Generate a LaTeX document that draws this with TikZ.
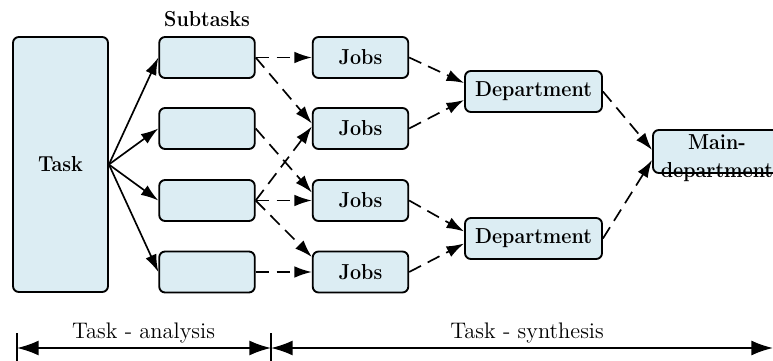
\documentclass[tikz,border=0pt]{standalone}
\usepackage{graphicx}
\usetikzlibrary{arrows.meta,calc}
\definecolor{boxfill}{RGB}{220,237,243}
\newcommand{\sq}[1]{\scalebox{0.91}[1]{#1}}
\begin{document}
\begin{tikzpicture}[x=0.6pt,y=-0.6pt,
  box/.style={draw, line width=1.1pt, rounded corners=3.5pt, fill=boxfill, inner sep=0pt,
    font=\fontsize{13}{17}\selectfont\bfseries},
  smallbox/.style={box, minimum width=57.3pt, minimum height=24.6pt},
  solidarrow/.style={line width=1pt, -{Latex[length=10.5pt,width=7pt]}},
  dasharrow/.style={line width=1pt, dash pattern=on 8pt off 4.5pt, -{Latex[length=10.5pt,width=7pt]}},
  dimarrow/.style={line width=1.1pt, {Latex[length=13pt,width=9pt]}-{Latex[length=13pt,width=9pt]}},
  lbl/.style={inner sep=0pt, anchor=base}
]
\clip (0,0) rectangle (773,361);
\fill[white] (0,0) rectangle (773,361);

% boxes
\node[box, minimum width=57pt, minimum height=153pt] (task) at (60.5,164.5) {\sq{Task}};
\node[smallbox] (s1) at (207,57.5) {};
\node[smallbox] (s2) at (207,128.5) {};
\node[smallbox] (s3) at (207,200.5) {};
\node[smallbox] (s4) at (207,272) {};
\node[smallbox] (j1) at (360.5,57.5) {\sq{Jobs}};
\node[smallbox] (j2) at (360.5,128.5) {\sq{Jobs}};
\node[smallbox] (j3) at (360.5,200.5) {\sq{Jobs}};
\node[smallbox] (j4) at (360.5,272) {\sq{Jobs}};
\node[box, minimum width=82.2pt, minimum height=24.6pt] (d1) at (533.5,91.5) {\sq{Department}};
\node[box, minimum width=82.2pt, minimum height=24.6pt] (d2) at (533.5,238.5) {\sq{Department}};
\node[box, minimum width=76.8pt, minimum height=25.8pt] (main) at (717,151.5) {};
\node[inner sep=0pt, align=center, font=\fontsize{13}{17}\selectfont\bfseries] (maintext) at (717,158.5) {\sq{Main-}\\\sq{department}};

\node[lbl, font=\fontsize{13}{15}\selectfont\bfseries] (subtitle) at (207,27) {\sq{Subtasks}};

% solid arrows
\draw[solidarrow] (task.east) -- (s1.west);
\draw[solidarrow] (task.east) -- (s2.west);
\draw[solidarrow] (task.east) -- (s3.west);
\draw[solidarrow] (task.east) -- (s4.west);

% dashed arrows subtasks -> jobs
\draw[dasharrow] (s1.east) -- (j1.west);
\draw[dasharrow] (s1.east) -- ($(j2.west)+(0,-5)$);
\draw[dasharrow] (s2.east) -- ($(j3.west)+(0,-8)$);
\draw[dasharrow] (s3.east) -- ($(j2.west)+(0,-2)$);
\draw[dasharrow] (s3.east) -- (j3.west);
\draw[dasharrow] (s3.east) -- ($(j4.west)+(0,-15)$);
\draw[dasharrow] (s4.east) -- (j4.west);

% jobs -> departments
\draw[dasharrow] (j1.east) -- ($(d1.west)+(0,-8.5)$);
\draw[dasharrow] (j2.east) -- ($(d1.west)+(0,8.5)$);
\draw[dasharrow] (j3.east) -- ($(d2.west)+(0,-7)$);
\draw[dasharrow] (j4.east) -- ($(d2.west)+(0,5)$);

% departments -> main
\draw[dasharrow] (d1.east) -- ($(main.west)+(0,-1.5)$);
\draw[dasharrow] (d2.east) -- ($(main.west)+(0,8.5)$);

% bottom dimension arrows
\coordinate (bl) at (17,348);
\coordinate (bm) at (271,348);
\coordinate (br) at (773,348);
\coordinate (blt) at (17,333);
\coordinate (blb) at (17,361);
\coordinate (bmt) at (271,333);
\coordinate (bmb) at (271,361);
\draw[line width=1pt] (blt) -- (blb);
\draw[line width=1pt] (bmt) -- (bmb);
\draw[dimarrow] (bl) -- (bm);
\draw[dimarrow] (bm) -- (br);
\node[lbl, font=\fontsize{13.5}{15}\selectfont] (ana) at (143.5,338) {Task - analysis};
\node[lbl, font=\fontsize{13.5}{15}\selectfont] (syn) at (527,338) {Task - synthesis};
\end{tikzpicture}
\end{document}
